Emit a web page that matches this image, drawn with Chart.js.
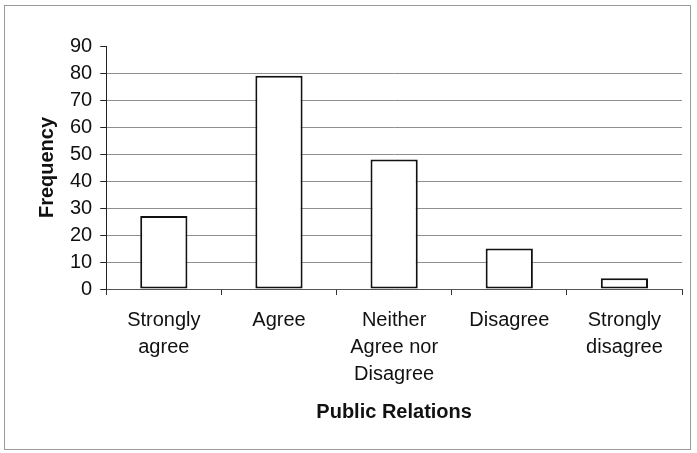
<!DOCTYPE html>
<html>
<head>
<meta charset="utf-8">
<title>Public Relations</title>
<script src="https://cdn.jsdelivr.net/npm/chart.js"></script>
<style>
  html, body { margin: 0; padding: 0; background: #fff; }
  #wrap { width: 697px; height: 453px; }
</style>
</head>
<body>
<div id="wrap">
  <canvas id="chart" width="697" height="453"></canvas>
</div>
<script>
  const categories = [
    ['Strongly', 'agree'],
    'Agree',
    ['Neither', 'Agree nor', 'Disagree'],
    'Disagree',
    ['Strongly', 'disagree']
  ];
  const frequency = [27, 79, 48, 15, 4];
  const yTicks = [0, 10, 20, 30, 40, 50, 60, 70, 80, 90];

  const FONT = "'Liberation Sans', Arial, sans-serif";

  // light frame round the whole chart
  const frame = {
    id: 'frame',
    beforeDraw(chart) {
      const c = chart.ctx;
      c.save();
      c.fillStyle = '#fff';
      c.fillRect(0, 0, chart.width, chart.height);
      c.strokeStyle = '#9a9a9a';
      c.lineWidth = 1;
      c.strokeRect(4.5, 5.5, 686, 444);
      c.restore();
    }
  };

  new Chart(document.getElementById('chart'), {
    type: 'bar',
    data: {
      labels: categories,
      datasets: [{
        label: 'Frequency',
        data: frequency,
        backgroundColor: '#ffffff',
        borderColor: '#111111',
        borderWidth: 2,
        borderSkipped: false,
        barPercentage: 0.41,
        categoryPercentage: 1
      }]
    },
    options: {
      responsive: false,
      animation: false,
      devicePixelRatio: 1,
      layout: { padding: { left: 35, right: 15, top: 46, bottom: 29 } },
      plugins: {
        legend: { display: false },
        tooltip: { enabled: false }
      },
      scales: {
        x: {
          grid: {
            drawOnChartArea: false,
            drawTicks: true,
            tickLength: 6,
            tickColor: '#333'
          },
          border: { color: '#555', width: 1 },
          ticks: {
            color: '#111',
            padding: 12,
            maxRotation: 0,
            autoSkip: false,
            font: { family: FONT, size: 20, lineHeight: 1.35 }
          },
          title: {
            display: true,
            text: 'Public Relations',
            color: '#111',
            padding: { top: 0, bottom: 0 },
            font: { family: FONT, size: 20, weight: 'bold' }
          }
        },
        y: {
          min: 0,
          max: 90,
          afterBuildTicks(axis) {
            axis.ticks = yTicks.map(v => ({ value: v }));
          },
          grid: {
            color: ctx => (ctx.tick && ctx.tick.value === 90) ? 'rgba(0,0,0,0)' : '#8f8f8f',
            tickColor: '#222',
            tickLength: 6,
            lineWidth: 1
          },
          border: { color: '#222', width: 1 },
          ticks: {
            color: '#111',
            padding: 8,
            font: { family: FONT, size: 20 }
          },
          title: {
            display: true,
            text: 'Frequency',
            color: '#111',
            padding: { top: 0, bottom: 3 },
            font: { family: FONT, size: 20, weight: 'bold' }
          }
        }
      }
    },
    plugins: [frame]
  });
</script>
</body>
</html>
